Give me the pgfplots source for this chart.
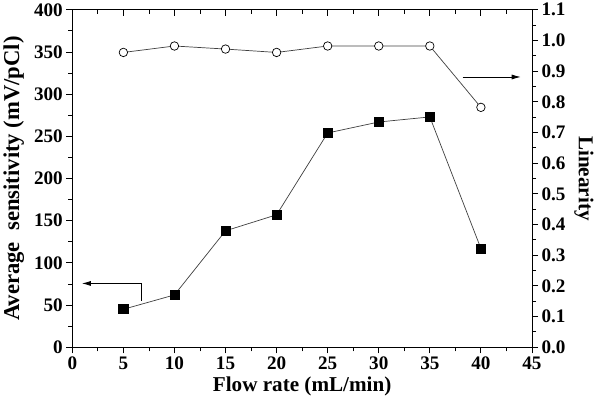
\documentclass[border=0pt]{standalone}
\usepackage{fontspec}
\setmainfont{Liberation Serif}
\usepackage{pgfplots}
\pgfplotsset{compat=1.18}
\usetikzlibrary{arrows.meta}

\begin{document}
\begin{tikzpicture}
\pgfplotsset{
  base/.style={
    scale only axis, width=455bp, height=334bp,
    xmin=0, xmax=45,
    /pgf/number format/assume math mode=true,
    tick label style={font=\fontsize{19}{22}\selectfont\bfseries},
    label style={font=\fontsize{21}{24}\selectfont\bfseries},
    axis line style={line width=0.8pt},
    tick style={black, line width=0.8pt},
    major tick length=6bp, minor tick length=4bp,
  },
}
% sensitivity (left axis) with the bottom x axis
\begin{axis}[base,
  axis x line*=bottom, axis y line*=left,
  tick align=outside,
  ymin=0, ymax=400,
  xtick={0,5,...,45}, minor x tick num=1,
  ytick={0,50,...,400}, minor y tick num=1,
  xlabel={Flow rate (mL/min)},
  ylabel={Average\ \ sensitivity (mV/pCl)},
  xlabel style={yshift=0bp},
  ylabel style={yshift=3bp, font=\fontsize{22.5}{25}\selectfont\bfseries},
]
\addplot[black!75, line width=0.7pt, mark=square*,
  mark options={fill=black, draw=black, solid}, mark size=4.5bp]
  coordinates {(5,45) (10,62) (15,138) (20,157) (25,254) (30,267) (35,273) (40,117)};
\addplot[black, line width=0.8pt, -{Latex[length=9bp,width=5bp]}]
  coordinates {(6.77,55) (6.77,75.6) (0.93,75.6)};
\end{axis}
% linearity (right axis)
\begin{axis}[base,
  axis y line*=right, axis x line=none,
  tick align=outside,
  ymin=0, ymax=1.1,
  ytick={0,0.1,0.2,0.3,0.4,0.5,0.6,0.7,0.8,0.9,1.0,1.1},
  minor y tick num=1,
  yticklabel style={/pgf/number format/.cd, fixed, fixed zerofill, precision=1},
  ylabel={Linearity},
  ylabel style={rotate=180, yshift=2bp},
]
\addplot[black!75, line width=0.7pt, mark=*,
  mark options={fill=white, draw=black, solid, line width=0.7pt}, mark size=4.2bp]
  coordinates {(5,0.961) (10,0.982) (15,0.972) (20,0.961) (25,0.982) (30,0.982) (35,0.982) (40,0.782)};
\addplot[black, line width=0.8pt, -{Latex[length=9bp,width=5bp]}]
  coordinates {(38.2,0.881) (43.9,0.881)};
\end{axis}
% top frame with inward ticks
\begin{axis}[base,
  axis x line*=top, axis y line=none,
  tick align=inside,
  ymin=0, ymax=1,
  xtick={0,5,...,45}, minor x tick num=1,
  xticklabels={},
]
\end{axis}
\end{tikzpicture}
\end{document}
